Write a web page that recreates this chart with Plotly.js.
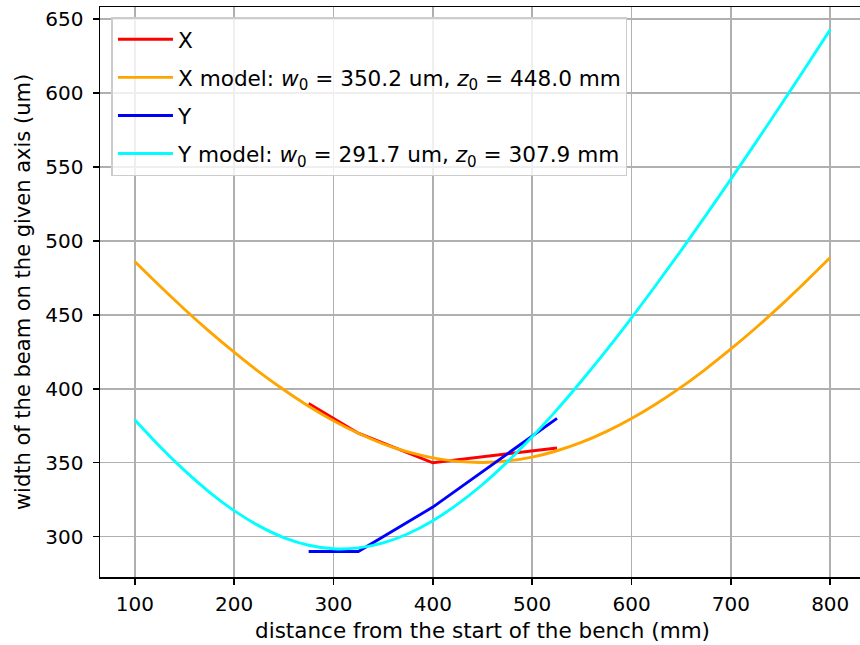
<!DOCTYPE html>
<html>
<head>
<meta charset="utf-8">
<script src="https://cdn.plot.ly/plotly-3.0.1.min.js"></script>
<style>
  html, body { margin: 0; padding: 0; overflow: hidden; background: #fff; }
  #chart { width: 866px; height: 645px; }
</style>
</head>
<body>
<div id="chart"></div>
<script>
// Measured beam widths (um) vs position on bench (mm)
const measZ = [275, 325, 400, 525];
const measX = [390, 370, 350, 360];
const measY = [290, 290, 320, 380];

const modelZ = [100, 125, 150, 175, 200, 225, 250, 275, 300, 325, 350, 375, 400, 425, 450,
                475, 500, 525, 550, 575, 600, 625, 650, 675, 700, 725, 750, 775, 800];
const modelX = [486.0, 469.6, 453.8, 438.8, 424.7, 411.4, 399.3, 388.2, 378.4, 369.9, 362.8, 357.3, 353.3, 350.9, 350.2,
                351.2, 353.8, 358.1, 363.9, 371.2, 379.9, 389.9, 401.1, 413.5, 426.9, 441.1, 456.2, 472.2, 488.7];
const modelY = [379.0, 361.1, 344.8, 330.2, 317.6, 307.3, 299.4, 294.2, 291.8, 292.4, 295.8, 302.0, 310.8, 322.0, 335.3,
                350.6, 367.5, 385.9, 405.6, 426.3, 448.0, 470.5, 493.6, 517.4, 541.7, 566.4, 591.5, 617.0, 642.8];

const names = [
  'X',
  'X model: <i>w</i><sub>0</sub> = 350.2 um, <i>z</i><sub>0</sub> = 448.0 mm',
  'Y',
  'Y model: <i>w</i><sub>0</sub> = 291.7 um, <i>z</i><sub>0</sub> = 307.9 mm'
];
const xTicks = [100, 200, 300, 400, 500, 600, 700, 800];
const yTicks = [300, 350, 400, 450, 500, 550, 600, 650];

const LW = 2.9;
const traces = [
  {x: measZ, y: measX, name: names[0], legendgroup: 'a', mode: 'lines', line: {color: '#ff0000', width: LW}},
  {x: modelZ, y: modelX, name: names[1], legendgroup: 'b', mode: 'lines', line: {color: '#ffa500', width: LW, shape: 'spline'}},
  {x: measZ, y: measY, name: names[2], legendgroup: 'c', mode: 'lines', line: {color: '#0000ff', width: LW}},
  {x: modelZ, y: modelY, name: names[3], legendgroup: 'd', mode: 'lines', line: {color: '#00ffff', width: LW, shape: 'spline'}}
];

const tickFont = {family: 'DejaVu Sans', size: 20, color: '#000'};
const xTitleFont = {family: 'DejaVu Sans', size: 21.5, color: '#000'};
const yTitleFont = {family: 'DejaVu Sans', size: 21, color: '#000'};

const layout = {
  width: 866, height: 645,
  margin: {l: 100, r: 1, t: 7, b: 68},
  paper_bgcolor: '#fff', plot_bgcolor: '#fff',
  font: tickFont,
  showlegend: true,
  legend: {
    x: 0.015, y: 0.982, xanchor: 'left', yanchor: 'top',
    bgcolor: 'rgba(255,255,255,0.8)', bordercolor: '#cccccc', borderwidth: 1.5,
    font: {family: 'DejaVu Sans', size: 21.6, color: '#000'},
    traceorder: 'grouped', tracegroupgap: 7, itemwidth: 55
  },
  xaxis: {
    range: [65, 835], tickvals: xTicks, ticktext: xTicks.map(String),
    showgrid: true, gridcolor: '#b0b0b0', gridwidth: 1.5,
    showline: true, linecolor: '#000', linewidth: 1.5, mirror: true,
    ticks: 'outside', ticklen: 6, tickwidth: 1.5, tickcolor: '#000',
    zeroline: false, tickfont: tickFont, ticklabelstandoff: 2,
    title: {text: 'distance from the start of the bench (mm)', font: xTitleFont, standoff: 8}
  },
  yaxis: {
    range: [272.75, 658.1], tickvals: yTicks, ticktext: yTicks.map(String),
    showgrid: true, gridcolor: '#b0b0b0', gridwidth: 1.5,
    showline: true, linecolor: '#000', linewidth: 1.5, mirror: false,
    ticks: 'outside', ticklen: 6, tickwidth: 1.5, tickcolor: '#000',
    zeroline: false, tickfont: tickFont, ticklabelstandoff: 5,
    title: {text: 'width of the beam on the given axis (um)', font: yTitleFont, standoff: 9}
  }
};

Plotly.newPlot('chart', traces, layout, {staticPlot: true, displayModeBar: false});
</script>
</body>
</html>
